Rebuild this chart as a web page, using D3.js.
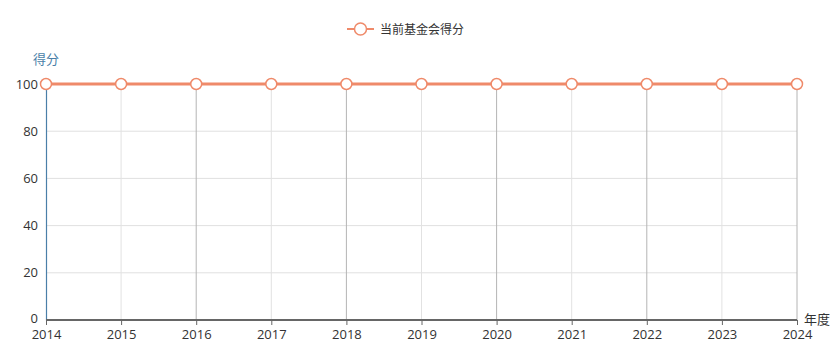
<!DOCTYPE html>
<html><head><meta charset="utf-8">
<script src="https://cdn.jsdelivr.net/npm/d3@7"></script>
<style>body{margin:0;background:#fff}svg{display:block;font-family:"Microsoft YaHei","Noto Sans CJK SC","Open Sans",sans-serif}</style>
</head><body><svg id="c" width="840" height="360"></svg>
<script>
const years = ["2014","2015","2016","2017","2018","2019","2020","2021","2022","2023","2024"];
const scores = [100,100,100,100,100,100,100,100,100,100,100];
const yTicks = [0,20,40,60,80,100];
const seriesName = "当前基金会得分";
const yName = "得分";
const xName = "年度";

const svg = d3.select("#c");
const L = 46, R = 797, T = 84, B = 320;
const x = d3.scalePoint().domain(years).range([L, R]);
const y = d3.scaleLinear().domain([0, 100]).range([B, T]);
const lineColor = "#ef8a6a";

// horizontal grid
svg.append("g").selectAll("line").data(yTicks.filter(d => d > 0)).join("line")
  .attr("x1", L).attr("x2", R).attr("y1", d => y(d)).attr("y2", d => y(d))
  .attr("stroke", "#e0e0e0").attr("stroke-width", 1);
// vertical grid
svg.append("g").selectAll("line").data(years.slice(1)).join("line")
  .attr("x1", d => x(d)).attr("x2", d => x(d)).attr("y1", T).attr("y2", B)
  .attr("stroke", (d, i) => i % 2 === 0 ? "#e2e2e2" : "#b4b4b4").attr("stroke-width", 1);

// y axis
const ya = svg.append("g").attr("transform", `translate(${L},0)`)
  .call(d3.axisLeft(y).tickValues(yTicks).tickSize(0).tickPadding(8));
ya.select(".domain").attr("stroke", "#4a7fa8").attr("stroke-width", 1.2);
ya.selectAll("text").attr("font-size", 13).attr("fill", "#333")
  .style("font-family", "'Open Sans','Noto Sans',sans-serif");
ya.selectAll(".tick").filter(d => d === 0).select("text").attr("dy", "0.2em");

// x axis
const xa = svg.append("g").attr("transform", `translate(0,${B})`)
  .call(d3.axisBottom(x).tickSize(5).tickPadding(5));
xa.select(".domain").attr("stroke", "#666").attr("stroke-width", 2).attr("d", `M${L},0H${R}`);
xa.selectAll(".tick line").attr("stroke", "#666");
xa.selectAll("text").attr("font-size", 13).attr("fill", "#333")
  .style("font-family", "'Open Sans','Noto Sans',sans-serif");

svg.append("text").attr("x", 33).attr("y", 64).attr("font-size", 13).attr("fill", "#4a7fa8").text(yName);
svg.append("text").attr("x", 804).attr("y", 324).attr("font-size", 13).attr("fill", "#333").text(xName);

// line
svg.append("path").datum(scores.map((v, i) => [years[i], v]))
  .attr("d", d3.line().x(d => x(d[0])).y(d => y(d[1])))
  .attr("fill", "none").attr("stroke", lineColor).attr("stroke-width", 2.8);
svg.append("g").selectAll("circle").data(scores.map((v, i) => [years[i], v])).join("circle")
  .attr("cx", d => x(d[0])).attr("cy", d => y(d[1])).attr("r", 5.5)
  .attr("fill", "#fff").attr("stroke", lineColor).attr("stroke-width", 1.5);

// legend
const lg = svg.append("g").attr("transform", "translate(347,29)");
lg.append("line").attr("x1", 0).attr("x2", 27).attr("y1", 0).attr("y2", 0).attr("stroke", lineColor).attr("stroke-width", 2);
lg.append("circle").attr("cx", 13.5).attr("cy", 0).attr("r", 6).attr("fill", "#fff").attr("stroke", lineColor).attr("stroke-width", 1.5);
lg.append("text").attr("x", 33).attr("y", 4.5).attr("font-size", 12).attr("fill", "#333").text(seriesName);
</script></body></html>
